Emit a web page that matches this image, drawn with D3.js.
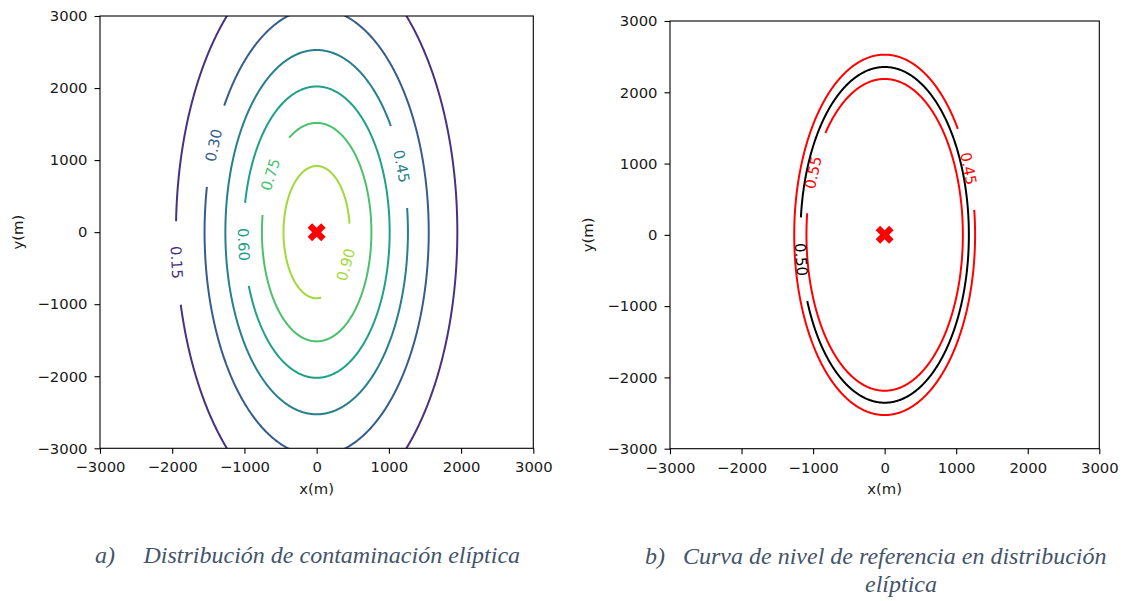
<!DOCTYPE html>
<html><head><meta charset="utf-8">
<script src="https://cdn.jsdelivr.net/npm/d3@7"></script>
<style>
body{margin:0;background:#fff}
svg text{font-family:"DejaVu Sans",sans-serif}
.cap{font-family:"Liberation Serif","Times New Roman",serif;font-style:italic;fill:#44546a;font-size:24px}
</style></head><body>
<svg id="chart" width="1124" height="601"></svg>
<script>
// ---- data ----
const tickValues = [-3000, -2000, -1000, 0, 1000, 2000, 3000];
const domainX = [-3000, 3000];
const domainY = [-3000, 3000];

// panel a: contour levels, half-width / half-height of each contour (m), label y (m), label side
const levelsA = [0.15, 0.30, 0.45, 0.60, 0.75, 0.90];
const halfWidthA = [1948, 1552, 1264, 1011, 758, 459];
const halfHeightA = [3896, 3104, 2528, 2022, 1516, 918];
const labelYA = [-420, 1205, 915, -170, 800, -450];
const labelSideA = [-1, -1, 1, -1, -1, 1];

// panel b: reference level 0.50 and its neighbours
const levelsB = [0.45, 0.50, 0.55];
const halfWidthB = [1264, 1177, 1093];
const halfHeightB = [2528, 2355, 2187];
const labelYB = [930, -345, 875];
const labelSideB = [1, -1, -1];

const sourceX = [0];
const sourceY = [0];

const captionA = ["a)", "Distribución de contaminación elíptica"];
const captionB = ["b)", "Curva de nivel de referencia en distribución", "elíptica"];

// ---- drawing ----
const svg = d3.select("#chart");
svg.append("rect").attr("width", 1124).attr("height", 601).attr("fill", "#fff");

const FS = 14.8;
const fmtLevel = d3.format(".2f");
const viridis = d3.scaleSequential(d3.interpolateViridis).domain([0, 1.05]);
const colorB = d3.scaleOrdinal().domain(levelsB).range(["#ff0000", "#000000", "#ff0000"]);

function panel(id, box, levels, hw, hh, labY, labSide, colorFn, xLab) {
  const x = d3.scaleLinear().domain(domainX).range([box.left, box.right]);
  const y = d3.scaleLinear().domain(domainY).range([box.bottom, box.top]);
  const g = svg.append("g");

  g.append("clipPath").attr("id", id).append("rect")
    .attr("x", box.left).attr("y", box.top)
    .attr("width", box.right - box.left).attr("height", box.bottom - box.top);

  const cg = g.append("g").attr("clip-path", `url(#${id})`);
  const gap = 41;
  levels.forEach((lv, i) => {
    const rx = hw[i], ry = hh[i];
    const s = labY[i] / ry;
    const t0 = Math.atan2(s, labSide[i] * Math.sqrt(1 - s * s));
    const lx = x(rx * Math.cos(t0)), ly = y(ry * Math.sin(t0));
    const n = 900;
    const pts = d3.range(n + 1).map(k => {
      const t = t0 + Math.PI + 2 * Math.PI * k / n;
      return [x(rx * Math.cos(t)), y(ry * Math.sin(t))];
    });
    const line = d3.line().defined(p => Math.hypot(p[0] - lx, p[1] - ly) > gap);
    cg.append("path").attr("d", line(pts))
      .attr("fill", "none").attr("stroke", colorFn(lv)).attr("stroke-width", 2);

    const dxp = x(-rx * Math.sin(t0)) - x(0);
    const dyp = y(ry * Math.cos(t0)) - y(0);
    let ang = Math.atan2(dyp, dxp) * 180 / Math.PI;
    if (ang > 90) ang -= 180;
    if (ang <= -90) ang += 180;
    g.append("text")
      .attr("transform", `translate(${lx},${ly}) rotate(${ang})`)
      .attr("text-anchor", "middle").attr("dominant-baseline", "central")
      .attr("fill", colorFn(lv)).style("font-size", FS + "px")
      .text(fmtLevel(lv));
  });

  // source marker
  g.selectAll(".src").data(sourceX.map((d, i) => [d, sourceY[i]])).join("path")
    .attr("transform", d => `translate(${x(d[0])},${y(d[1])}) rotate(45)`)
    .attr("d", d3.symbol(d3.symbolCross, 202)())
    .attr("fill", "#ff0000");

  // axes
  const fmt = d3.format("d");
  const ax = g.append("g").attr("transform", `translate(0,${box.bottom})`)
    .call(d3.axisBottom(x).tickValues(tickValues).tickFormat(fmt).tickSize(5.5).tickPadding(8).tickSizeOuter(0));
  const ay = g.append("g").attr("transform", `translate(${box.left},0)`)
    .call(d3.axisLeft(y).tickValues(tickValues).tickFormat(fmt).tickSize(5.5).tickPadding(7).tickSizeOuter(0));
  [ax, ay].forEach(a => {
    a.select(".domain").remove();
    a.selectAll("line").attr("stroke", "#000").attr("stroke-width", 1.1);
    a.selectAll("text").attr("fill", "#1a1a1a").style("font-size", FS + "px").style("font-family", "DejaVu Sans");
  });
  g.append("rect").attr("x", box.left).attr("y", box.top)
    .attr("width", box.right - box.left).attr("height", box.bottom - box.top)
    .attr("fill", "none").attr("stroke", "#000").attr("stroke-width", 1.1);

  g.append("text").attr("x", (box.left + box.right) / 2).attr("y", 494)
    .attr("text-anchor", "middle").attr("fill", "#1a1a1a").style("font-size", FS + "px").text("x(m)");
  g.append("text").attr("transform", `translate(${xLab},${(box.top + box.bottom) / 2}) rotate(-90)`)
    .attr("text-anchor", "middle").attr("fill", "#1a1a1a").style("font-size", FS + "px").text("y(m)");
}

panel("clipA", {left: 100, top: 16, right: 533.3, bottom: 448.3},
  levelsA, halfWidthA, halfHeightA, labelYA, labelSideA, v => viridis(v), 23);
panel("clipB", {left: 670, top: 21, right: 1099.3, bottom: 448.7},
  levelsB, halfWidthB, halfHeightB, labelYB, labelSideB, v => colorB(v), 593);

// captions
svg.append("text").attr("class", "cap").attr("x", 95).attr("y", 563).text(captionA[0]);
svg.append("text").attr("class", "cap").attr("x", 143.5).attr("y", 563).text(captionA[1]);
svg.append("text").attr("class", "cap").attr("x", 645).attr("y", 564).text(captionB[0]);
svg.append("text").attr("class", "cap").attr("x", 683).attr("y", 564).text(captionB[1]);
svg.append("text").attr("class", "cap").attr("x", 901).attr("y", 592).attr("text-anchor", "middle").text(captionB[2]);
</script>
</body></html>
